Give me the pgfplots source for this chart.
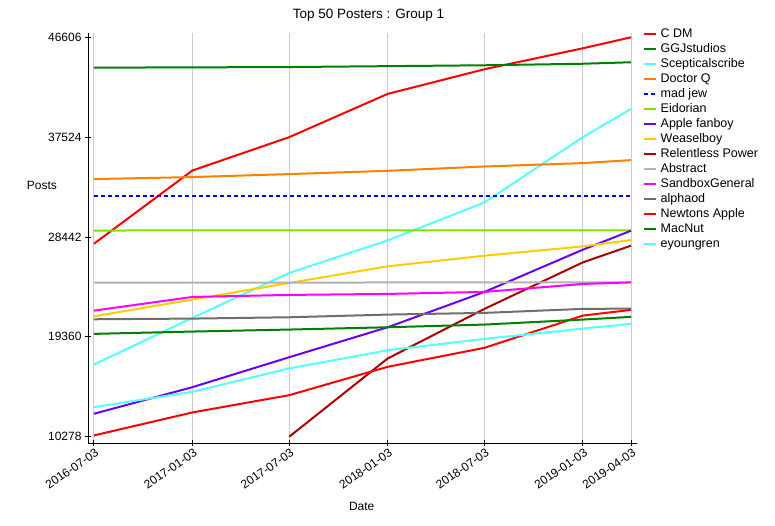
\documentclass[border=0pt]{standalone}
\usepackage{fontspec}
\setmainfont{Liberation Sans}
\usepackage{pgfplots}
\usepackage{pgfplotstable}
\pgfplotsset{compat=1.18}

\definecolor{cRed}{RGB}{255,0,0}
\definecolor{cGreen}{RGB}{0,128,0}
\definecolor{cCyan}{RGB}{85,255,255}
\definecolor{cOrange}{RGB}{255,128,0}
\definecolor{cBlue}{RGB}{0,0,255}
\definecolor{cLime}{RGB}{125,225,0}
\definecolor{cViolet}{RGB}{102,0,255}
\definecolor{cGold}{RGB}{255,204,0}
\definecolor{cDarkRed}{RGB}{170,0,0}
\definecolor{cLightGray}{RGB}{178,178,178}
\definecolor{cMagenta}{RGB}{255,0,255}
\definecolor{cGray}{RGB}{110,110,110}

% day = days since 2016-07-03
\pgfplotstableread{
day  cdm   ggj   scep  docq  mad   eid   apf   weas  rel   abs   sbg   alph  newt  mac   eyo
0    27833 43845 16844 33710 32193 29030 12367 21231 nan   24292 21746 20959 10396 19632 12967
184  34491 43870 21086 33892 32193 29040 14783 22748 nan   24295 22990 21022 12485 19842 14366
365  37524 43900 25172 34164 32193 29040 17508 24264 10278 24300 23174 21141 14057 20024 16490
549  41456 43980 28133 34463 32193 29045 20232 25772 17390 24305 23265 21385 16635 20232 18144
730  43700 44060 31585 34854 32193 29050 23447 26744 21904 24308 23447 21540 18361 20477 19178
914  45607 44200 37524 35163 32193 29050 27289 27588 26136 24312 24174 21904 21295 20932 20114
1004 46606 44335 40094 35435 32193 29050 29014 28170 27652 24316 24316 21930 21812 21177 20541
}\posts

\begin{document}
\begin{tikzpicture}
\path[use as bounding box] (-88pt,-82pt) rectangle (687pt,443pt);
\begin{axis}[
  at={(0pt,0pt)}, anchor=south west,
  width=549pt, height=410pt, scale only axis,
  xmin=-11.2, xmax=1015.2, ymin=9706, ymax=46996,
  axis x line=bottom, axis y line=left,
  axis line style={-, line width=1pt},
  tick align=center, major tick length=6pt,
  tick style={black, line width=1pt},
  scaled y ticks=false,
  xtick={0,184,365,549,730,914,1004},
  xticklabels={2016-07-03,2017-01-03,2017-07-03,2018-01-03,2018-07-03,2019-01-03,2019-04-03},
  ytick={10278,19360,28442,37524,46606},
  yticklabels={10278,19360,28442,37524,46606},
  tick label style={font=\fontsize{12}{14}\selectfont},
  xticklabel style={xshift=6pt, yshift=-3pt, rotate=35, anchor=east},
  xmajorgrids, grid style={black!20, line width=1pt},
  title={Top 50 Posters : Group 1},
  title style={font=\fontsize{13.5}{16}\selectfont, at={(axis description cs:0.511,1.03)}, anchor=center},
  xlabel={Date},
  xlabel style={font=\fontsize{12}{14}\selectfont, at={(axis description cs:0.4985,-0.155)}, anchor=center},
  ylabel={Posts},
  ylabel style={font=\fontsize{12}{14}\selectfont, rotate=-90, at={(axis description cs:-0.0838,0.627)}, anchor=center},
  no markers,
  every axis plot/.append style={line width=2pt},
  legend cell align=left,
  legend image code/.code={\draw[#1] (0pt,0pt) -- (12pt,0pt);},
  legend style={at={(axis description cs:1,1)}, anchor=north west,
    xshift=6pt, yshift=5pt, draw=none, fill=none, inner sep=0pt,
    font=\fontsize{12.5}{15}\selectfont,
    nodes={inner sep=0pt, text height=9pt, text depth=3pt},
    row sep=3pt, column sep=3.5pt},
]
\addplot[cRed] table[x=day,y=cdm]{\posts};
\addlegendentry{C DM}
\addplot[cGreen] table[x=day,y=ggj]{\posts};
\addlegendentry{GGJstudios}
\addplot[cCyan] table[x=day,y=scep]{\posts};
\addlegendentry{Scepticalscribe}
\addplot[cOrange] table[x=day,y=docq]{\posts};
\addlegendentry{Doctor Q}
\addplot[cBlue, dash pattern=on 4pt off 3pt] table[x=day,y=mad]{\posts};
\addlegendentry{mad jew}
\addplot[cLime] table[x=day,y=eid]{\posts};
\addlegendentry{Eidorian}
\addplot[cViolet] table[x=day,y=apf]{\posts};
\addlegendentry{Apple fanboy}
\addplot[cGold] table[x=day,y=weas]{\posts};
\addlegendentry{Weaselboy}
\addplot[cDarkRed] table[x=day,y=rel]{\posts};
\addlegendentry{Relentless Power}
\addplot[cLightGray] table[x=day,y=abs]{\posts};
\addlegendentry{Abstract}
\addplot[cMagenta] table[x=day,y=sbg]{\posts};
\addlegendentry{SandboxGeneral}
\addplot[cGray] table[x=day,y=alph]{\posts};
\addlegendentry{alphaod}
\addplot[cRed] table[x=day,y=newt]{\posts};
\addlegendentry{Newtons Apple}
\addplot[cGreen] table[x=day,y=mac]{\posts};
\addlegendentry{MacNut}
\addplot[cCyan] table[x=day,y=eyo]{\posts};
\addlegendentry{eyoungren}
\end{axis}
\end{tikzpicture}
\end{document}
